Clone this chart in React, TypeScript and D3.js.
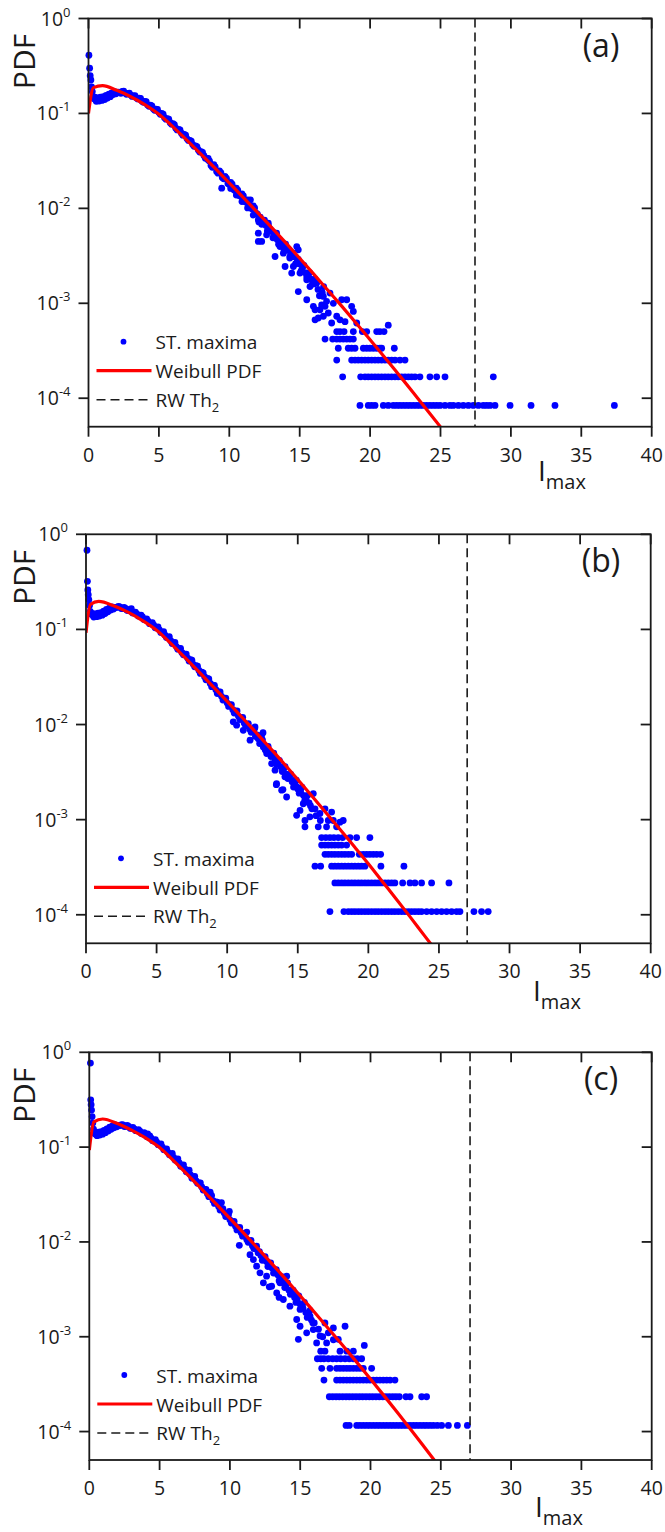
import React from "react";
import * as d3 from "d3";

// ---------- axes / labels ----------
const X_TICKS = [0, 5, 10, 15, 20, 25, 30, 35, 40];
const Y_TICK_EXP = [0, -1, -2, -3, -4];
const PANEL_LABELS = ["(a)", "(b)", "(c)"];
const RW_TH2 = [27.45, 27.0, 27.08];
const LEGEND_ITEMS = ["ST. maxima", "Weibull PDF", "RW Th"];

// ---------- Weibull PDF curves ----------
const curveA_x = [0, 0.35, 1, 2, 3, 4, 5, 6, 7, 8, 9, 10, 11, 12, 13, 14, 15, 16, 17, 18, 19, 20, 21, 22, 23, 24, 25];
const curveA_y = [0.1, 0.187, 0.196, 0.175, 0.15, 0.124, 0.098, 0.0723, 0.0519, 0.0371, 0.0263, 0.0185, 0.013, 0.00908, 0.00631, 0.00435, 0.00298, 0.00203, 0.00137, 9.27e-4, 6.21e-4, 4.13e-4, 2.74e-4, 1.8e-4, 1.18e-4, 7.67e-5, 4.99e-5];
const curveB_x = [0, 0.31, 0.9, 2, 3, 4, 5, 6, 7, 8, 9, 10, 11, 12, 13, 14, 15, 16, 17, 18, 19, 20, 21, 22, 23, 24, 25];
const curveB_y = [0.092, 0.183, 0.197, 0.176, 0.151, 0.124, 0.098, 0.0714, 0.0507, 0.0358, 0.0251, 0.0175, 0.01213, 0.00838, 0.00575, 0.00392, 0.00264, 0.00177, 0.00118, 7.89e-4, 5.22e-4, 3.44e-4, 2.23e-4, 1.45e-4, 9.33e-5, 5.96e-5, 3.83e-5];
const curveC_x = [0, 0.33, 0.95, 2, 3, 4, 5, 6, 7, 8, 9, 10, 11, 12, 13, 14, 15, 16, 17, 18, 19, 20, 21, 22, 23, 24, 25];
const curveC_y = [0.093, 0.185, 0.198, 0.177, 0.151, 0.125, 0.099, 0.0716, 0.051, 0.036, 0.0254, 0.0177, 0.0123, 0.00851, 0.00586, 0.004, 0.00271, 0.00182, 0.00122, 8.17e-4, 5.43e-4, 3.59e-4, 2.35e-4, 1.53e-4, 9.9e-5, 6.35e-5, 4.07e-5];

// ---------- ST. maxima : dense part [Imax, PDF] ----------
const bandA: number[][] = [
  [0.03, 0.41], [0.08, 0.3], [0.12, 0.25], [0.17, 0.225], [0.22, 0.19], [0.27, 0.17], [0.33, 0.15], [0.4, 0.143], [0.5, 0.14], [0.6, 0.139], [0.7, 0.14], [0.8, 0.141], [0.9, 0.143], [1.0, 0.142], [1.1, 0.144], [1.2, 0.146], [1.3, 0.149], [1.4, 0.151], [1.5, 0.154], [1.6, 0.157], [1.7, 0.16], [1.8, 0.163], [1.9, 0.165], [2.0, 0.167], [2.1, 0.168],
  [0.45, 0.148], [0.55, 0.134], [0.65, 0.146], [0.75, 0.135], [0.85, 0.148], [0.95, 0.137], [1.05, 0.15], [1.15, 0.14], [1.25, 0.155], [1.35, 0.145], [1.45, 0.16], [1.55, 0.15], [1.65, 0.165], [1.75, 0.158], [1.85, 0.17], [1.95, 0.161],
  [2.2, 0.167], [2.4, 0.171], [2.6, 0.164], [2.8, 0.162], [3.0, 0.156], [3.2, 0.153], [3.4, 0.146], [3.6, 0.145], [3.8, 0.134], [4.0, 0.134], [4.2, 0.123], [4.4, 0.122], [4.6, 0.112], [4.8, 0.111], [5.0, 0.102], [5.2, 0.1], [5.4, 0.09], [5.6, 0.088], [5.8, 0.08], [6.0, 0.078], [6.2, 0.07], [6.4, 0.068], [6.6, 0.062], [6.8, 0.06], [7.0, 0.054], [7.2, 0.052], [7.4, 0.047], [7.6, 0.0455], [7.8, 0.0412], [8.0, 0.0395], [8.2, 0.036], [8.4, 0.0336], [8.6, 0.0314], [8.8, 0.0271], [9.0, 0.0274], [9.2, 0.0235], [9.4, 0.0238], [9.6, 0.0205], [9.8, 0.0207], [10.0, 0.0178], [10.2, 0.018], [10.4, 0.0154], [10.6, 0.0156], [10.8, 0.0134], [11.0, 0.0135], [11.2, 0.0116], [11.4, 0.0117], [11.6, 0.0099], [11.8, 0.0101], [12.0, 0.0087],
  [2.3, 0.163], [2.5, 0.172], [2.7, 0.159], [2.9, 0.164], [3.1, 0.151], [3.3, 0.154], [3.5, 0.142], [3.7, 0.144], [3.9, 0.131], [4.1, 0.133], [4.3, 0.119], [4.5, 0.12], [4.7, 0.108], [4.9, 0.11], [5.1, 0.098], [5.3, 0.098], [5.5, 0.087], [5.7, 0.087], [5.9, 0.077], [6.1, 0.076], [6.3, 0.067], [6.5, 0.067], [6.7, 0.059], [6.9, 0.059], [7.1, 0.052], [7.3, 0.051], [7.5, 0.045], [7.7, 0.0448], [7.9, 0.0392], [8.1, 0.0388], [8.3, 0.0338], [8.5, 0.0335], [8.7, 0.0282], [8.9, 0.0288], [9.1, 0.0244], [9.3, 0.0248], [9.5, 0.0212], [9.7, 0.0216], [9.9, 0.0183], [10.1, 0.0188], [10.3, 0.0158], [10.5, 0.0163], [10.7, 0.0137], [10.9, 0.0142], [11.1, 0.0118], [11.3, 0.0123], [11.5, 0.0102], [11.7, 0.0106], [11.9, 0.0089],
  [10.1, 0.0162], [10.5, 0.0138], [10.9, 0.0118], [11.3, 0.0101], [11.7, 0.0085], [11.5, 0.0123],
  [8.5, 0.0324], [9.69, 0.0216], [9.46, 0.0163], [12.06, 0.00757], [12.06, 0.00448], [12.77, 0.00698], [13.25, 0.00311], [13.96, 0.00244], [14.9, 0.00366], [14.43, 0.00208],
  [12.2, 0.0081], [12.4, 0.0072], [12.6, 0.0066], [12.8, 0.0064], [13.0, 0.0057], [13.2, 0.0055], [13.4, 0.0047], [13.6, 0.0046], [13.8, 0.0041], [14.0, 0.0042], [14.2, 0.0036], [14.4, 0.0033], [14.6, 0.0031], [14.8, 0.0027], [15.0, 0.0026], [15.2, 0.0024], [15.4, 0.0021], [15.6, 0.002], [15.8, 0.0018], [16.0, 0.0016], [16.3, 0.0014], [16.6, 0.0013],
  [12.1, 0.0072], [12.3, 0.0068], [12.5, 0.0075], [12.7, 0.0058], [12.9, 0.006], [13.1, 0.0049], [13.3, 0.0051], [13.5, 0.0042], [13.7, 0.0044], [13.9, 0.0036], [14.1, 0.0038], [14.3, 0.003], [14.5, 0.0034], [14.7, 0.0026], [14.9, 0.0029], [15.1, 0.0022], [15.3, 0.0025], [15.5, 0.0019], [15.7, 0.0021], [15.9, 0.0016], [16.1, 0.0018], [16.4, 0.0012], [16.7, 0.0015],
  [12.06, 0.00548], [12.3, 0.00448], [12.65, 0.00526], [13.36, 0.00548], [13.6, 0.00396], [13.84, 0.00337], [14.31, 0.00311], [14.79, 0.00396], [14.55, 0.00244], [15.02, 0.00208], [14.9, 0.00133], [15.5, 0.00177], [15.73, 0.0015], [16.2, 0.00163], [15.5, 0.00109], [15.97, 0.00093], [16.09, 0.00067], [16.44, 0.000855], [16.68, 0.00118], [16.8, 0.00093], [17.15, 0.00128], [17.39, 0.001], [17.63, 0.00073], [17.86, 0.00067], [17.98, 0.00109], [18.34, 0.00109], [18.69, 0.00093], [18.81, 0.00082], [18.22, 0.00064], [19.05, 0.00062], [16.68, 0.00073], [16.32, 0.0007], [17.03, 0.00079], [17.27, 0.00062], [16.09, 0.000855], [16.56, 0.00096], [16.91, 0.00105],
];
const bandB: number[][] = [
  [0.07, 0.68], [0.1, 0.32], [0.13, 0.26], [0.16, 0.232], [0.2, 0.205], [0.25, 0.178], [0.3, 0.155], [0.38, 0.144], [0.5, 0.141], [0.6, 0.139], [0.7, 0.14], [0.8, 0.141], [0.9, 0.142], [1.0, 0.143], [1.1, 0.144], [1.2, 0.146], [1.3, 0.149], [1.4, 0.152], [1.5, 0.156], [1.6, 0.16], [1.7, 0.163], [1.8, 0.166], [1.9, 0.168], [2.0, 0.17], [2.1, 0.17],
  [0.45, 0.147], [0.55, 0.135], [0.65, 0.146], [0.75, 0.136], [0.85, 0.148], [0.95, 0.138], [1.05, 0.15], [1.15, 0.141], [1.25, 0.156], [1.35, 0.147], [1.45, 0.162], [1.55, 0.153], [1.65, 0.167], [1.75, 0.16], [1.85, 0.172], [1.95, 0.164],
  [2.2, 0.171], [2.4, 0.172], [2.6, 0.166], [2.8, 0.166], [3.0, 0.158], [3.2, 0.157], [3.4, 0.149], [3.6, 0.146], [3.8, 0.138], [4.0, 0.135], [4.2, 0.127], [4.4, 0.122], [4.6, 0.115], [4.8, 0.111], [5.0, 0.104], [5.2, 0.099], [5.4, 0.093], [5.6, 0.087], [5.8, 0.082], [6.0, 0.076], [6.2, 0.072], [6.4, 0.066], [6.6, 0.063], [6.8, 0.057], [7.0, 0.055], [7.2, 0.05], [7.4, 0.048], [7.6, 0.043], [7.8, 0.0415], [8.0, 0.037], [8.2, 0.0355], [8.4, 0.0318], [8.6, 0.0305], [8.8, 0.027], [9.0, 0.026], [9.2, 0.0232], [9.4, 0.022], [9.6, 0.0198], [9.8, 0.0187], [10.0, 0.0168], [10.2, 0.0161], [10.4, 0.0143], [10.6, 0.0138], [10.8, 0.0122], [11.0, 0.0117], [11.2, 0.0104], [11.4, 0.0099], [11.6, 0.0089], [11.8, 0.0085], [12.0, 0.0075],
  [2.3, 0.175], [2.5, 0.166], [2.7, 0.17], [2.9, 0.159], [3.1, 0.162], [3.3, 0.149], [3.5, 0.152], [3.7, 0.138], [3.9, 0.141], [4.1, 0.127], [4.3, 0.129], [4.5, 0.115], [4.7, 0.118], [4.9, 0.104], [5.1, 0.106], [5.3, 0.093], [5.5, 0.095], [5.7, 0.082], [5.9, 0.084], [6.1, 0.071], [6.3, 0.073], [6.5, 0.062], [6.7, 0.063], [6.9, 0.054], [7.1, 0.055], [7.3, 0.0465], [7.5, 0.0475], [7.7, 0.0405], [7.9, 0.041], [8.1, 0.0345], [8.3, 0.035], [8.5, 0.0295], [8.7, 0.0302], [8.9, 0.025], [9.1, 0.0258], [9.3, 0.0212], [9.5, 0.022], [9.7, 0.0181], [9.9, 0.0189], [10.1, 0.0155], [10.3, 0.0162], [10.5, 0.0132], [10.7, 0.0139], [10.9, 0.0113], [11.1, 0.0119], [11.3, 0.0097], [11.5, 0.0102], [11.7, 0.0083], [11.9, 0.0088],
  [3.21, 0.165], [11.95, 0.0092], [12.54, 0.0082], [13.48, 0.00233], [13.95, 0.00207],
  [12.2, 0.0071], [12.4, 0.0066], [12.6, 0.006], [12.8, 0.0057], [13.0, 0.0051], [13.2, 0.0048], [13.4, 0.0043], [13.6, 0.004], [13.8, 0.0036], [14.0, 0.0034], [14.2, 0.003], [14.4, 0.0028], [14.6, 0.0025], [14.8, 0.0024], [15.0, 0.0021], [15.2, 0.002], [15.4, 0.0018], [15.6, 0.0016], [15.8, 0.0015], [16.0, 0.0013],
  [12.1, 0.0078], [12.3, 0.0063], [12.5, 0.0069], [12.7, 0.0054], [12.9, 0.0059], [13.1, 0.0046], [13.3, 0.005], [13.5, 0.0038], [13.7, 0.0042], [13.9, 0.0032], [14.1, 0.0036], [14.3, 0.0027], [14.5, 0.003], [14.7, 0.0022], [14.9, 0.0026], [15.1, 0.0019], [15.3, 0.0022], [15.5, 0.0016], [15.7, 0.0018], [15.9, 0.0014], [16.3, 0.0011], [16.6, 0.00098],
  [10.43, 0.01067], [10.67, 0.00984], [11.14, 0.0087], [11.62, 0.00684], [11.97, 0.00944], [12.44, 0.00773], [12.56, 0.00582], [12.8, 0.00495], [13.15, 0.00389], [13.39, 0.00331], [13.5, 0.00239], [13.86, 0.00204], [14.21, 0.00173], [14.09, 0.00282], [14.68, 0.00259], [14.92, 0.00221], [15.16, 0.00195], [15.39, 0.00147], [15.16, 0.00125], [14.92, 0.00111], [15.51, 0.00098], [15.86, 0.00107], [16.1, 0.00188], [16.22, 0.0013], [16.57, 0.00116], [16.93, 0.0013], [17.16, 0.00098], [17.4, 0.0012], [17.52, 0.00098], [17.75, 0.00084], [17.99, 0.00094], [18.22, 0.00098], [17.04, 0.00084], [16.45, 0.00084], [15.51, 0.00084],
];
const bandC: number[][] = [
  [0.08, 0.77], [0.1, 0.315], [0.13, 0.28], [0.16, 0.246], [0.2, 0.21], [0.25, 0.18], [0.3, 0.155], [0.36, 0.14], [0.45, 0.137], [0.55, 0.136], [0.65, 0.138], [0.75, 0.139], [0.85, 0.14], [0.95, 0.142], [1.05, 0.145], [1.15, 0.148], [1.25, 0.151], [1.35, 0.155], [1.45, 0.158], [1.55, 0.161], [1.65, 0.163], [1.75, 0.165], [1.85, 0.166], [1.95, 0.168], [2.05, 0.168],
  [0.45, 0.144], [0.55, 0.132], [0.65, 0.144], [0.75, 0.134], [0.85, 0.146], [0.95, 0.137], [1.05, 0.15], [1.15, 0.142], [1.25, 0.156], [1.35, 0.148], [1.45, 0.162], [1.55, 0.154], [1.65, 0.167], [1.75, 0.16], [1.85, 0.171], [1.95, 0.164],
  [2.2, 0.169], [2.4, 0.171], [2.6, 0.166], [2.8, 0.165], [3.0, 0.158], [3.2, 0.156], [3.4, 0.149], [3.6, 0.147], [3.8, 0.138], [4.0, 0.137], [4.2, 0.128], [4.4, 0.124], [4.6, 0.116], [4.8, 0.113], [5.0, 0.105], [5.2, 0.1], [5.4, 0.094], [5.6, 0.088], [5.8, 0.083], [6.0, 0.078], [6.2, 0.073], [6.4, 0.068], [6.6, 0.063], [6.8, 0.059], [7.0, 0.055], [7.2, 0.051], [7.4, 0.048], [7.6, 0.044], [7.8, 0.042], [8.0, 0.038], [8.2, 0.0358], [8.4, 0.0323], [8.6, 0.031], [8.8, 0.0273], [9.0, 0.0265], [9.2, 0.0236], [9.4, 0.0224], [9.6, 0.0202], [9.8, 0.019], [10.0, 0.0171], [10.2, 0.0163], [10.4, 0.0146], [10.6, 0.014], [10.8, 0.0125], [11.0, 0.0119], [11.2, 0.0106], [11.4, 0.0101], [11.6, 0.0091], [11.8, 0.0087], [12.0, 0.0077],
  [2.3, 0.173], [2.5, 0.165], [2.7, 0.169], [2.9, 0.158], [3.1, 0.161], [3.3, 0.149], [3.5, 0.153], [3.7, 0.139], [3.9, 0.142], [4.1, 0.129], [4.3, 0.131], [4.5, 0.117], [4.7, 0.12], [4.9, 0.106], [5.1, 0.108], [5.3, 0.094], [5.5, 0.096], [5.7, 0.083], [5.9, 0.086], [6.1, 0.073], [6.3, 0.075], [6.5, 0.063], [6.7, 0.065], [6.9, 0.055], [7.1, 0.057], [7.3, 0.047], [7.5, 0.049], [7.7, 0.0415], [7.9, 0.042], [8.1, 0.0352], [8.3, 0.0358], [8.5, 0.03], [8.7, 0.0308], [8.9, 0.0255], [9.1, 0.0262], [9.3, 0.0217], [9.5, 0.0224], [9.7, 0.0185], [9.9, 0.0193], [10.1, 0.0158], [10.3, 0.0165], [10.5, 0.0134], [10.7, 0.0142], [10.9, 0.0115], [11.1, 0.0122], [11.3, 0.0099], [11.5, 0.0104], [11.7, 0.0085], [11.9, 0.009],
  [4.15, 0.138], [9.96, 0.021], [10.67, 0.0092], [12.8, 0.00336], [13.5, 0.0026], [9.4, 0.026], [11.2, 0.0127], [8.6, 0.0335],
  [12.2, 0.0072], [12.4, 0.0068], [12.6, 0.0062], [12.8, 0.0058], [13.0, 0.0053], [13.2, 0.005], [13.4, 0.0045], [13.6, 0.0042], [13.8, 0.0037], [14.0, 0.0035], [14.2, 0.0031], [14.4, 0.0029], [14.6, 0.0026], [14.8, 0.0024], [15.0, 0.0022], [15.2, 0.002], [15.4, 0.0018], [15.6, 0.0017], [15.8, 0.0015], [16.0, 0.0014],
  [12.1, 0.0079], [12.3, 0.0064], [12.5, 0.007], [12.7, 0.0055], [12.9, 0.006], [13.1, 0.0047], [13.3, 0.0051], [13.5, 0.0039], [13.7, 0.0043], [13.9, 0.0033], [14.1, 0.0037], [14.3, 0.0028], [14.5, 0.0031], [14.7, 0.0023], [14.9, 0.0027], [15.1, 0.002], [15.3, 0.0023], [15.5, 0.0016], [15.7, 0.0019], [15.9, 0.0014], [16.3, 0.0012], [16.6, 0.001],
  [11.43, 0.00734], [11.67, 0.00652], [11.9, 0.00555], [12.14, 0.00472], [12.61, 0.00435], [12.38, 0.0037], [12.97, 0.00341], [13.33, 0.0029], [13.56, 0.0037], [13.8, 0.00247], [14.04, 0.00435], [14.27, 0.0021], [14.51, 0.0029], [14.75, 0.00152], [14.99, 0.00194], [14.99, 0.00129], [14.87, 0.00094], [15.46, 0.0011], [15.7, 0.00165], [15.93, 0.00119], [16.17, 0.00086], [16.41, 0.00102], [16.76, 0.0014], [17.0, 0.0011], [17.36, 0.00124], [17.71, 0.00094], [18.19, 0.00129], [16.88, 0.00086], [17.36, 0.00093],
];

// ---------- ST. maxima : sparse tail, one row per count level ----------
const rowsA_level = [8.4e-5, 1.68e-4, 2.52e-4, 3.36e-4, 4.2e-4, 5.04e-4, 5.88e-4];
const rowsA_x = [
  [19.28, 19.87, 20.11, 20.35, 20.94, 21.29, 21.65, 21.89, 22.12, 22.36, 22.6, 22.83, 23.07, 23.31, 23.54, 23.78, 24.02, 24.25, 24.49, 24.73, 24.97, 25.32, 25.67, 25.91, 26.27, 26.62, 26.98, 27.33, 27.69, 28.04, 28.28, 28.52, 28.87, 29.94, 31.43, 33.13, 37.35],
  [18.05, 19.33, 19.64, 19.87, 20.11, 20.35, 20.58, 20.82, 21.06, 21.29, 21.53, 21.77, 22.0, 22.24, 22.48, 22.72, 22.95, 23.19, 23.54, 24.25, 24.73, 25.32, 28.75],
  [17.63, 18.69, 18.93, 19.16, 19.4, 19.64, 19.87, 20.11, 20.35, 20.58, 20.82, 21.06, 21.29, 21.53, 21.77, 22.12, 22.48],
  [17.74, 18.45, 18.69, 18.93, 19.52, 19.76, 19.99, 20.23, 20.47, 20.7, 20.82, 21.72],
  [16.8, 17.34, 17.63, 17.86, 18.1, 18.34, 18.57, 18.81],
  [17.63, 17.86, 18.15, 18.81, 19.45, 19.76, 20.47, 20.7, 20.99],
  [21.29],
];
const rowsB_level = [1.08e-4, 2.16e-4, 3.24e-4, 4.32e-4, 5.4e-4, 6.48e-4];
const rowsB_x = [
  [17.28, 18.27, 18.58, 18.82, 19.05, 19.29, 19.52, 19.76, 19.99, 20.23, 20.47, 20.7, 20.94, 21.18, 21.41, 21.65, 21.88, 22.12, 22.36, 22.59, 22.83, 23.06, 23.3, 23.54, 23.77, 24.13, 24.48, 24.84, 25.19, 25.54, 25.9, 26.25, 26.49, 27.48, 28.02, 28.49],
  [17.63, 17.87, 18.11, 18.34, 18.58, 18.82, 19.05, 19.29, 19.52, 19.76, 19.99, 20.23, 20.47, 20.7, 20.94, 21.18, 21.41, 21.65, 21.88, 22.43, 22.95, 23.3, 23.77, 24.48, 25.71],
  [16.22, 16.62, 17.4, 17.63, 17.87, 18.11, 18.34, 18.58, 18.82, 19.05, 19.29, 19.52, 19.76, 20.89, 22.52],
  [16.93, 17.16, 17.4, 17.63, 17.87, 18.11, 18.34, 18.58, 18.82, 19.36, 19.64, 19.88, 20.11, 20.35, 20.59, 20.87],
  [16.69, 16.93, 17.16, 17.4, 17.63, 17.87, 18.11, 18.46],
  [16.69, 16.99, 17.28, 17.56, 17.87, 18.18, 18.7, 19.17, 20.11],
];
const rowsC_level = [1.16e-4, 2.33e-4, 3.49e-4, 4.64e-4, 5.86e-4, 7.05e-4, 8.1e-4];
const rowsC_x = [
  [18.26, 18.49, 19.02, 19.25, 19.49, 19.73, 19.96, 20.2, 20.44, 20.67, 20.91, 21.15, 21.39, 21.62, 21.86, 22.1, 22.33, 22.57, 22.81, 23.05, 23.28, 23.52, 23.76, 23.99, 24.23, 24.47, 24.75, 25.06, 25.54, 26.18, 26.89],
  [17.07, 17.31, 17.55, 17.78, 18.02, 18.26, 18.49, 18.73, 18.97, 19.21, 19.44, 19.68, 19.92, 20.15, 20.39, 20.63, 20.87, 21.1, 21.34, 21.58, 21.81, 22.05, 22.52, 22.81, 23.64, 23.99],
  [16.69, 17.59, 17.83, 18.07, 18.31, 18.54, 18.78, 19.02, 19.25, 19.49, 19.73, 19.96, 20.2, 20.44, 20.67, 20.91, 21.15, 21.39, 21.74],
  [16.53, 17.12, 17.59, 17.83, 18.07, 18.31, 18.54, 18.78, 19.02, 19.25, 19.49, 20.08],
  [16.22, 16.46, 16.69, 17.0, 17.31, 17.59, 17.88, 18.19, 18.49, 18.78, 19.06, 19.37],
  [16.46, 16.76, 17.83, 18.31, 18.78],
  [19.56],
];

// ---------- layout (pixels) ----------
const LAYOUT = [
  { left: 88.5, right: 651.7, top: 18.5, bottom: 426.7, imaxX: 538, imaxDy: 54 },
  { left: 86, right: 650.7, top: 534.3, bottom: 943.3, imaxX: 533, imaxDy: 58 },
  { left: 89.3, right: 651.7, top: 1052.3, bottom: 1460, imaxX: 535, imaxDy: 57 },
];

const FONT = "'Open Sans', 'DejaVu Sans', sans-serif";
const BLUE = "#0000ff";
const RED = "#ff0000";
const INK = "#1a1a1a";

function zip(xs: number[], ys: number[]) {
  return xs.map((x, i) => [x, ys[i]]);
}
function rowsToPoints(levels: number[], xs: number[][]) {
  const out: number[][] = [];
  levels.forEach((lv, i) => xs[i].forEach((x) => out.push([x, lv])));
  return out;
}

const PANELS = [
  { band: bandA, rows: rowsToPoints(rowsA_level, rowsA_x), curve: zip(curveA_x, curveA_y) },
  { band: bandB, rows: rowsToPoints(rowsB_level, rowsB_x), curve: zip(curveB_x, curveB_y) },
  { band: bandC, rows: rowsToPoints(rowsC_level, rowsC_x), curve: zip(curveC_x, curveC_y) },
];

function Panel({ idx }: { idx: number }) {
  const L = LAYOUT[idx];
  const P = PANELS[idx];
  const x = d3.scaleLinear().domain([0, 40]).range([L.left, L.right]);
  const y = d3.scaleLog().domain([Math.pow(10, -4.3), 1]).range([L.bottom, L.top]);
  const line = d3
    .line<number[]>()
    .x((d) => x(d[0]))
    .y((d) => y(d[1]))
    .curve(d3.curveMonotoneX);
  const clipId = `clip${idx}`;
  const pts = [...P.band, ...P.rows];
  const tick = 10;
  const lgX = L.left;
  return (
    <g>
      <defs>
        <clipPath id={clipId}>
          <rect x={L.left} y={L.top} width={L.right - L.left} height={L.bottom - L.top} />
        </clipPath>
      </defs>
      {/* scatter */}
      <g fill={BLUE}>
        {pts.map((d, i) => (
          <circle key={i} cx={x(d[0])} cy={y(d[1])} r={3.4} />
        ))}
      </g>
      {/* fit */}
      <path d={line(P.curve) || ""} fill="none" stroke={RED} strokeWidth={3.2} clipPath={`url(#${clipId})`} />
      {/* threshold */}
      <line x1={x(RW_TH2[idx])} x2={x(RW_TH2[idx])} y1={L.top} y2={L.bottom} stroke={INK} strokeWidth={1.6} strokeDasharray="9,5" />
      {/* frame */}
      <rect x={L.left} y={L.top} width={L.right - L.left} height={L.bottom - L.top} fill="none" stroke={INK} strokeWidth={1.8} />
      {/* x ticks */}
      {X_TICKS.map((t) => (
        <g key={"x" + t}>
          <line x1={x(t)} x2={x(t)} y1={L.bottom} y2={L.bottom + tick} stroke={INK} strokeWidth={1.8} />
          <line x1={x(t)} x2={x(t)} y1={L.top} y2={L.top + tick} stroke={INK} strokeWidth={1.8} />
          <text x={x(t)} y={L.bottom + 35} textAnchor="middle" fontFamily={FONT} fontSize={19.5} fill={INK}>
            {t}
          </text>
        </g>
      ))}
      {/* y ticks */}
      {Y_TICK_EXP.map((e) => {
        const yy = y(Math.pow(10, e));
        return (
          <g key={"y" + e}>
            <line x1={L.left - tick} x2={L.left} y1={yy} y2={yy} stroke={INK} strokeWidth={1.8} />
            <line x1={L.right - tick} x2={L.right} y1={yy} y2={yy} stroke={INK} strokeWidth={1.8} />
            <text x={L.left - 18} y={yy + 7} textAnchor="end" fontFamily={FONT} fontSize={19.5} fill={INK}>
              10
              <tspan dy={-9} fontSize={13}>
                {e === 0 ? "0" : "-" + Math.abs(e)}
              </tspan>
            </text>
          </g>
        );
      })}
      {/* axis titles */}
      <text
        transform={`translate(35,${L.top + 43}) rotate(-90)`}
        textAnchor="middle"
        fontFamily={FONT}
        fontSize={30}
        fill={INK}
      >
        PDF
      </text>
      <text x={L.imaxX} y={L.bottom + L.imaxDy} fontFamily={FONT} fontSize={28} fill={INK}>
        I
        <tspan dy={8} fontSize={20}>
          max
        </tspan>
      </text>
      <text x={601} y={L.top + 38} textAnchor="middle" fontFamily={FONT} fontSize={32} fill={INK}>
        {PANEL_LABELS[idx]}
      </text>
      {/* legend */}
      <g fontFamily={FONT} fontSize={19} fill={INK}>
        <circle cx={lgX + 35} cy={L.bottom - 85} r={2.9} fill={BLUE} />
        <text x={lgX + 67} y={L.bottom - 77.5}>
          {LEGEND_ITEMS[0]}
        </text>
        <line x1={lgX + 8} x2={lgX + 63} y1={L.bottom - 56} y2={L.bottom - 56} stroke={RED} strokeWidth={3.2} />
        <text x={lgX + 67} y={L.bottom - 48.5}>
          {LEGEND_ITEMS[1]}
        </text>
        <line x1={lgX + 8} x2={lgX + 63} y1={L.bottom - 27} y2={L.bottom - 27} stroke={INK} strokeWidth={1.6} strokeDasharray="9,5" />
        <text x={lgX + 67} y={L.bottom - 20}>
          {LEGEND_ITEMS[2]}
          <tspan dy={5} fontSize={13}>
            2
          </tspan>
        </text>
      </g>
    </g>
  );
}

export default function App() {
  return (
    <svg
      width={665}
      height={1532}
      viewBox="0 0 665 1532"
      style={{ position: "absolute", left: 0, top: 0, background: "#fff" }}
    >
      <rect x={0} y={0} width={665} height={1532} fill="#fff" />
      {[0, 1, 2].map((i) => (
        <Panel key={i} idx={i} />
      ))}
    </svg>
  );
}
